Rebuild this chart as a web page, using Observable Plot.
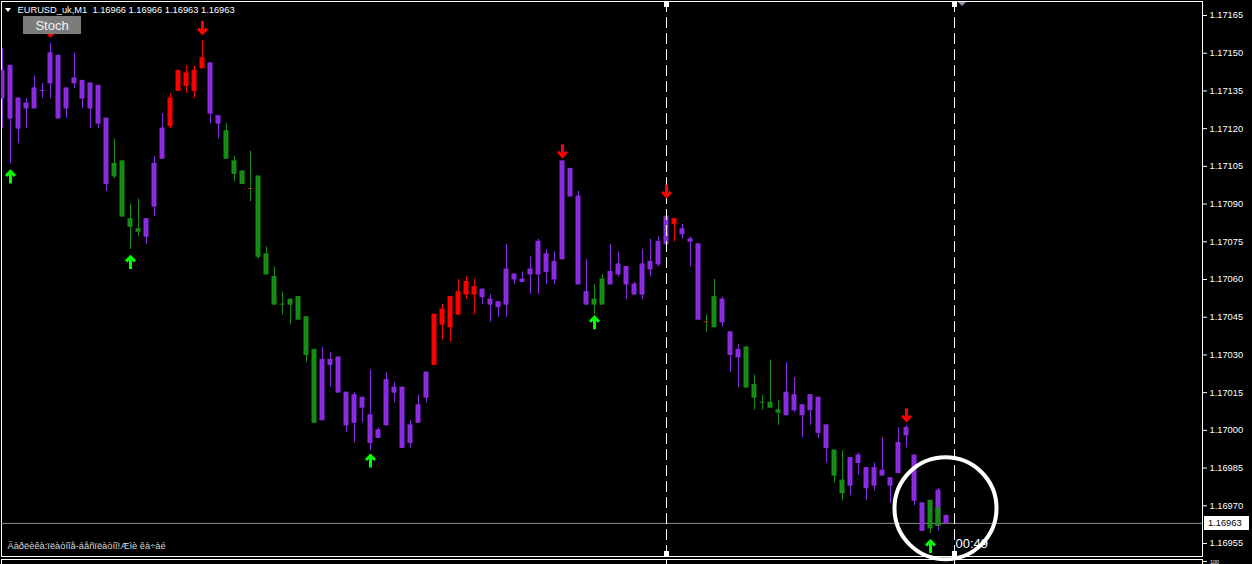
<!DOCTYPE html>
<html>
<head>
<meta charset="utf-8">
<script src="https://cdn.jsdelivr.net/npm/d3@7"></script>
<script src="https://cdn.jsdelivr.net/npm/@observablehq/plot@0.6"></script>
<style>
html,body{margin:0;padding:0;background:#000;overflow:hidden;}
#chart{width:1252px;height:564px;}
svg{display:block;}
</style>
</head>
<body>
<div id="chart"></div>
<script>
// ---------- data ----------
const headerText = "EURUSD_uk,M1\u00a0\u00a01.16966 1.16966 1.16963 1.16963";
const footerText = "Äàðëèêà:ïëàòíîå-áåñïëàòíî!Æìè êà÷àé";
const buttonLabel = "Stoch";
const barTimer = "00:49";
const bidPrice = 1.16963;
const subWindowLabel = "100";

const yTicks = [1.17165,1.17150,1.17135,1.17120,1.17105,1.17090,1.17075,1.17060,
                1.17045,1.17030,1.17015,1.17000,1.16985,1.16970,1.16955];

const bodyTop = [
 1.17143,1.17145,1.17132,1.17130,1.17136,1.17135,1.17150,1.17149,1.17136,1.17140,
 1.17139,1.17138,1.17137,1.17124,1.17106,1.17107,1.17084,1.17080,1.17084,1.17106,
 1.17120,1.17132,1.17143,1.17142,1.17143,1.17148,1.17146,1.17125,1.17119,1.17107,
 1.17103,1.17096,1.17101,1.17070,1.17061,1.17050,1.17052,1.17053,1.17045,1.17032,
 1.17028,1.17028,1.17029,1.17015,1.17014,1.17013,1.17006,1.17000,1.17020,1.17017,
 1.17017,1.17002,1.17010,1.17023,1.17046,1.17048,1.17053,1.17055,1.17059,1.17057,
 1.17056,1.17052,1.17051,1.17064,1.17062,1.17060,1.17064,1.17075,1.17070,1.17067,
 1.17107,1.17104,1.17093,1.17055,1.17052,1.17060,1.17063,1.17066,1.17065,1.17058,
 1.17066,1.17067,1.17075,1.17085,1.17084,1.17080,1.17076,1.17074,1.17043,1.17053,
 1.17052,1.17039,1.17032,1.17033,1.17018,1.17011,1.17011,1.17008,1.17015,1.17014,
 1.17010,1.17014,1.17013,1.17002,1.16992,1.16980,1.16989,1.16990,1.16985,1.16985,
 1.16984,1.16981,1.16995,1.17001,1.16990,1.16971,1.16972,1.16976,1.16966];

const bodyBottom = [
 1.17132,1.17124,1.17120,1.17128,1.17128,1.17135,1.17138,1.17124,1.17128,1.17138,
 1.17132,1.17128,1.17122,1.17098,1.17101,1.17085,1.17081,1.17079,1.17077,1.17089,
 1.17108,1.17121,1.17135,1.17137,1.17135,1.17144,1.17126,1.17122,1.17108,1.17102,
 1.17098,1.17096,1.17069,1.17062,1.17050,1.17050,1.17050,1.17044,1.17030,1.17003,
 1.17004,1.17026,1.17015,1.17002,1.17003,1.17009,1.16995,1.16997,1.17002,1.17015,
 1.16993,1.16995,1.17003,1.17013,1.17026,1.17042,1.17041,1.17046,1.17054,1.17054,
 1.17053,1.17050,1.17049,1.17050,1.17060,1.17059,1.17062,1.17062,1.17063,1.17060,
 1.17068,1.17093,1.17058,1.17050,1.17050,1.17050,1.17058,1.17062,1.17058,1.17054,
 1.17054,1.17064,1.17066,1.17074,1.17082,1.17078,1.17075,1.17044,1.17043,1.17041,
 1.17043,1.17030,1.17029,1.17017,1.17013,1.17011,1.17009,1.17007,1.17006,1.17008,
 1.17006,1.17008,1.16999,1.16993,1.16982,1.16975,1.16978,1.16987,1.16977,1.16978,
 1.16982,1.16978,1.16983,1.16998,1.16972,1.16960,1.16961,1.16962,1.16963];

const high = [
 1.17152,1.17145,1.17132,1.17132,1.17141,1.17138,1.17154,1.17149,1.17136,1.17150,
 1.17139,1.17138,1.17137,1.17124,1.17116,1.17107,1.17090,1.17092,1.17084,1.17109,
 1.17126,1.17134,1.17143,1.17145,1.17145,1.17155,1.17146,1.17125,1.17122,1.17109,
 1.17103,1.17111,1.17101,1.17073,1.17065,1.17055,1.17052,1.17053,1.17045,1.17032,
 1.17033,1.17031,1.17029,1.17015,1.17015,1.17013,1.17024,1.17001,1.17023,1.17019,
 1.17017,1.17004,1.17014,1.17023,1.17046,1.17050,1.17053,1.17060,1.17061,1.17060,
 1.17056,1.17054,1.17051,1.17074,1.17062,1.17063,1.17069,1.17076,1.17072,1.17071,
 1.17107,1.17104,1.17095,1.17068,1.17058,1.17062,1.17074,1.17071,1.17065,1.17059,
 1.17072,1.17076,1.17077,1.17086,1.17084,1.17082,1.17077,1.17074,1.17046,1.17060,
 1.17053,1.17039,1.17034,1.17033,1.17022,1.17014,1.17028,1.17012,1.17027,1.17021,
 1.17010,1.17014,1.17013,1.17002,1.16992,1.16992,1.16989,1.16991,1.16985,1.16987,
 1.16997,1.16981,1.17001,1.17002,1.16990,1.16971,1.16972,1.16977,1.16966];

const low = [
 1.17120,1.17106,1.17114,1.17120,1.17128,1.17132,1.17132,1.17124,1.17124,1.17136,
 1.17128,1.17120,1.17120,1.17095,1.17100,1.17085,1.17072,1.17077,1.17074,1.17085,
 1.17108,1.17120,1.17135,1.17134,1.17132,1.17144,1.17122,1.17116,1.17108,1.17099,
 1.17098,1.17091,1.17068,1.17062,1.17050,1.17046,1.17042,1.17044,1.17027,1.17003,
 1.17004,1.17017,1.17015,1.16999,1.16995,1.17003,1.16992,1.16997,1.17002,1.17011,
 1.16993,1.16993,1.17003,1.17011,1.17026,1.17036,1.17035,1.17046,1.17052,1.17046,
 1.17050,1.17043,1.17045,1.17045,1.17058,1.17059,1.17054,1.17054,1.17058,1.17058,
 1.17068,1.17093,1.17058,1.17050,1.17046,1.17050,1.17058,1.17061,1.17052,1.17054,
 1.17052,1.17061,1.17065,1.17074,1.17075,1.17076,1.17065,1.17044,1.17039,1.17041,
 1.17041,1.17023,1.17017,1.17017,1.17008,1.17008,1.17009,1.17002,1.17006,1.17007,
 1.16997,1.17002,1.16997,1.16987,1.16979,1.16972,1.16974,1.16982,1.16972,1.16976,
 1.16982,1.16971,1.16983,1.16993,1.16970,1.16960,1.16959,1.16960,1.16963];

// P = blue-violet, G = green, R = red, r = red body with green wick
const colorCode = ("PPPPPPPPPPPPPP" + "GGGG" + "PPP" + "RRRRR" + "PP" + "GGG" + "r" +
  "GGGGGGGG" + "PPPPPPPPPPPPPP" + "RRRRRR" + "PPPPPPPPPPPPPP" + "GG" + "PPPPPPPP" +
  "R" + "PPP" + "r" + "G" + "PPP" + "GGGGG" + "PPPPPP" + "GG" + "PPPPPPPPPP" + "G" + "PP").split("");

// second colour drawn over part of a body
const overlayIndex = [117];
const overlayTop = [1.16969];
const overlayBottom = [1.16962];
const overlayCode = ["G"];

const upArrowIndex = [1, 16, 46, 74, 116];
const upArrowPrice = [1.17101, 1.17067, 1.16988, 1.17043, 1.16954];
const downArrowIndex = [6, 25, 70, 83, 113];
const downArrowPrice = [1.17159, 1.17160, 1.17111, 1.17095, 1.17006];

const separatorIndex = [83, 119];
const timerIndex = 119, timerPrice = 1.16955;
const circleIndex = 117.875, circlePrice = 1.16969;

// ---------- build ----------
const bodyColor = {P: "#8A2BE2", G: "#168C16", R: "#FF0000", r: "#E01010"};
const wickColor = {P: "#8A2BE2", G: "#168C16", R: "#FF0000", r: "#168C16"};

const candles = bodyTop.map((t, i) => ({
  i, top: t, bottom: bodyBottom[i], high: high[i], low: low[i], code: colorCode[i]
}));
const overlays = overlayIndex.map((i, k) => ({i, top: overlayTop[k], bottom: overlayBottom[k], code: overlayCode[k]}));
const ups = upArrowIndex.map((i, k) => ({i, p: upArrowPrice[k]}));
const downs = downArrowIndex.map((i, k) => ({i, p: downArrowPrice[k]}));

const upSymbol = {
  draw(ctx) {
    ctx.moveTo(0, 7); ctx.lineTo(0, -5);
    ctx.moveTo(-4.5, -0.5); ctx.lineTo(0, -5); ctx.lineTo(4.5, -0.5);
  }
};
const downSymbol = {
  draw(ctx) {
    ctx.moveTo(0, -7); ctx.lineTo(0, 5);
    ctx.moveTo(-4.5, 0.5); ctx.lineTo(0, 5); ctx.lineTo(4.5, 0.5);
  }
};

const W = 1252, H = 564;
const mL = 1, mR = 50, mT = 1, mB = 8;
const pxPerUnit = 251428.6;            // from tick spacing (0.00015 per 37.7px)
const yTopPrice = 1.17165 + (15 - mT) / pxPerUnit;        // y=1
const yBotPrice = 1.17165 - (H - mB - 15) / pxPerUnit;    // y=556

const font = "'Liberation Sans', Arial, sans-serif";

const plot = Plot.plot({
  width: W, height: H,
  marginLeft: mL, marginRight: mR, marginTop: mT, marginBottom: mB,
  style: {background: "#000", color: "#ffffff", fontFamily: font, fontSize: "9.3px"},
  x: {domain: [-0.125, 150], axis: null},
  y: {domain: [yBotPrice, yTopPrice], axis: "right", ticks: yTicks,
      tickFormat: d => d.toFixed(5), tickSize: 4, tickPadding: 3, label: null},
  color: {type: "identity"},
  marks: [
    Plot.frame({stroke: "#ffffff"}),
    Plot.ruleY([bidPrice], {stroke: "#8c8c8c", strokeWidth: 1}),
    Plot.ruleX(candles, {x: "i", y1: "low", y2: "high", stroke: d => wickColor[d.code], strokeWidth: 1, clip: true}),
    Plot.rect(candles, {x1: d => d.i - 0.3125, x2: d => d.i + 0.3125, y1: "top", y2: "bottom",
      fill: d => bodyColor[d.code], insetTop: -0.5, insetBottom: -0.5, clip: true}),
    Plot.rect(overlays, {x1: d => d.i - 0.3125, x2: d => d.i + 0.3125, y1: "top", y2: "bottom",
      fill: d => bodyColor[d.code], insetTop: -0.5, insetBottom: -0.5}),
    Plot.ruleX(separatorIndex, {stroke: "#ffffff", strokeWidth: 1, strokeDasharray: "11,5"}),
    Plot.dot(ups, {x: "i", y: "p", symbol: upSymbol, r: 5, fill: "none", stroke: "#00FF00",
      strokeWidth: 3, strokeLinejoin: "miter", strokeLinecap: "butt"}),
    Plot.dot(downs, {x: "i", y: "p", symbol: downSymbol, r: 5, fill: "none", stroke: "#FF0000",
      strokeWidth: 3, strokeLinejoin: "miter", strokeLinecap: "butt"}),
    Plot.dot([{i: circleIndex, p: circlePrice}], {x: "i", y: "p", r: 51, fill: "none", stroke: "#ffffff", strokeWidth: 4}),
    Plot.text([barTimer], {x: () => timerIndex, y: () => timerPrice, text: d => d, textAnchor: "start", dx: 1,
      fill: "#ffffff", fontSize: 13, fontFamily: font}),
    Plot.text([headerText], {frameAnchor: "top-left", lineAnchor: "middle", dx: 16, dy: 9,
      text: d => d, textAnchor: "start", fill: "#ffffff", fontSize: 9.3, fontFamily: font}),
    Plot.text([footerText], {frameAnchor: "bottom-left", lineAnchor: "middle", dx: 6, dy: -10,
      text: d => d, textAnchor: "start", fill: "#d8d8d8", fontSize: 9.3, fontFamily: font})
  ]
});

document.getElementById("chart").appendChild(plot);

// ---------- terminal chrome ----------
const svg = d3.select(plot);
const xs = plot.scale("x"), ys = plot.scale("y");
const g = svg.append("g").attr("text-anchor", "start");

// header collapse triangle
g.append("path").attr("d", "M5,8L11,8L8,12Z").attr("fill", "#ffffff");

// Stoch button
g.append("rect").attr("x", 23).attr("y", 16).attr("width", 58).attr("height", 18)
  .attr("fill", "#7c7c7c");
g.append("text").attr("x", 52).attr("y", 25).attr("dy", "0.35em").attr("text-anchor", "middle")
  .attr("font-family", font).attr("font-size", 13).attr("fill", "#f2f2f2").text(buttonLabel);

// separator end markers
separatorIndex.forEach(i => {
  const x = Math.round(xs.apply(i));
  g.append("rect").attr("x", x - 2).attr("y", 2).attr("width", 5).attr("height", 5).attr("fill", "#ffffff");
  g.append("rect").attr("x", x - 2).attr("y", 551).attr("width", 5).attr("height", 5).attr("fill", "#ffffff");
  g.append("line").attr("x1", x + 0.5).attr("x2", x + 0.5).attr("y1", 559).attr("y2", 564).attr("stroke", "#ffffff");
});
// chart shift marker
{
  const x = Math.round(xs.apply(separatorIndex[1]));
  g.append("path").attr("d", `M${x + 4},2L${x + 12},2L${x + 8},6Z`).attr("fill", "#8a94a6");
}

// bid price label
{
  const y = ys.apply(bidPrice);
  g.append("rect").attr("x", 1204).attr("y", Math.round(y) - 7).attr("width", 45).attr("height", 14).attr("fill", "#ffffff");
  g.append("text").attr("x", 1208).attr("y", y).attr("dy", "0.35em").attr("text-anchor", "start")
    .attr("font-family", font).attr("font-size", 9.3).attr("fill", "#000000").text(bidPrice.toFixed(5));
}

// sub-window border
g.append("line").attr("x1", 1).attr("x2", 1203).attr("y1", 559.5).attr("y2", 559.5).attr("stroke", "#ffffff");
g.append("line").attr("x1", 1.5).attr("x2", 1.5).attr("y1", 559).attr("y2", 564).attr("stroke", "#ffffff");
g.append("line").attr("x1", 1202.5).attr("x2", 1202.5).attr("y1", 559).attr("y2", 564).attr("stroke", "#ffffff");
g.append("line").attr("x1", 1203).attr("x2", 1207).attr("y1", 561.5).attr("y2", 561.5).attr("stroke", "#ffffff");
g.append("text").attr("x", 1210).attr("y", 564).attr("text-anchor", "start").attr("font-family", font)
  .attr("font-size", 5.5).attr("fill", "#ffffff").text(subWindowLabel);
</script>
</body>
</html>
